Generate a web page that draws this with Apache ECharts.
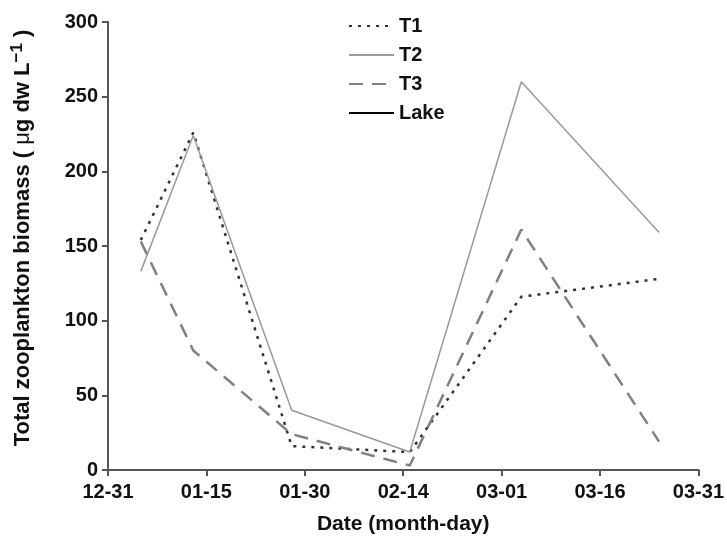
<!DOCTYPE html>
<html>
<head>
<meta charset="utf-8">
<script src="https://cdn.jsdelivr.net/npm/echarts@6/dist/echarts.min.js"></script>
<style>
  html, body { margin: 0; padding: 0; background: #fff; }
  #chart { width: 727px; height: 540px; }
</style>
</head>
<body>
<div id="chart"></div>
<script>
// sampling days, counted from 12-31
var sampleDays = [5, 13, 28, 46, 63, 84];
var tickLabels = ['12-31', '01-15', '01-30', '02-14', '03-01', '03-16', '03-31'];

var t1 = [154, 226, 16, 12, 116, 128];
var t2 = [133, 224, 40, 12, 260, 159];
var t3 = [153, 80, 24, 3, 161, 19];
var lake = [];

function pairs(vals) {
  var out = [];
  for (var i = 0; i < vals.length; i++) {
    out.push([sampleDays[i], vals[i]]);
  }
  return out;
}

var font = '"Liberation Sans", Arial, sans-serif';
var axisColor = '#555';

var myChart = echarts.init(document.getElementById('chart'));
var option = {
  animation: false,
  textStyle: { fontFamily: font },
  grid: { left: 108, right: 27, top: 22, bottom: 68 },
  legend: {
    orient: 'vertical',
    left: 343,
    top: 11,
    itemWidth: 45,
    itemHeight: 12,
    itemGap: 9,
    itemStyle: { opacity: 0 },
    textStyle: { fontSize: 20, fontWeight: 'bold', color: '#111', fontFamily: font },
    data: ['T1', 'T2', 'T3', 'Lake']
  },
  xAxis: {
    type: 'value',
    min: 0,
    max: 90,
    interval: 15,
    name: 'Date (month-day)',
    nameLocation: 'middle',
    nameGap: 44,
    nameTextStyle: { fontSize: 21, fontWeight: 'bold', color: '#111', fontFamily: font },
    axisLine: { lineStyle: { color: axisColor, width: 2 } },
    axisTick: { length: 6, lineStyle: { color: axisColor, width: 2 } },
    axisLabel: {
      margin: 12,
      fontSize: 20,
      fontWeight: 'bold',
      color: '#111',
      formatter: function (v) { return tickLabels[Math.round(v / 15)]; }
    },
    splitLine: { show: false }
  },
  yAxis: {
    type: 'value',
    min: 0,
    max: 300,
    interval: 50,
    name: '{a|Total zooplankton biomass ( }{m|\u03bc}{a|g dw L}{s|\u22121}{a| )}',
    nameLocation: 'middle',
    nameGap: 72,
    nameRotate: 90,
    nameTextStyle: {
      fontFamily: font,
      padding: [0, 0, 0, 16],
      rich: {
        a: { fontSize: 22, fontWeight: 'bold', color: '#111', fontFamily: font },
        m: { fontSize: 22, fontWeight: 'normal', color: '#111', fontFamily: font },
        s: { fontSize: 17, fontWeight: 'bold', color: '#111', fontFamily: font, verticalAlign: 'top', padding: [0, 0, 10, 0] }
      }
    },
    axisLine: { show: true, lineStyle: { color: axisColor, width: 2 } },
    axisTick: { show: true, length: 6, lineStyle: { color: axisColor, width: 2 } },
    axisLabel: { margin: 10, fontSize: 20, fontWeight: 'bold', color: '#111' },
    splitLine: { show: false }
  },
  series: [
    {
      name: 'T1', type: 'line', symbol: 'none',
      data: pairs(t1),
      itemStyle: { color: '#333' },
      lineStyle: { color: '#333', width: 2.5, type: [3, 6] }
    },
    {
      name: 'T2', type: 'line', symbol: 'none',
      data: pairs(t2),
      itemStyle: { color: '#999' },
      lineStyle: { color: '#999', width: 1.5 }
    },
    {
      name: 'T3', type: 'line', symbol: 'none',
      data: pairs(t3),
      itemStyle: { color: '#808080' },
      lineStyle: { color: '#808080', width: 2.5, type: [14, 9] }
    },
    {
      name: 'Lake', type: 'line', symbol: 'none',
      data: pairs(lake),
      itemStyle: { color: '#000' },
      lineStyle: { color: '#000', width: 2 }
    }
  ]
};
option && myChart.setOption(option);
</script>
</body>
</html>
